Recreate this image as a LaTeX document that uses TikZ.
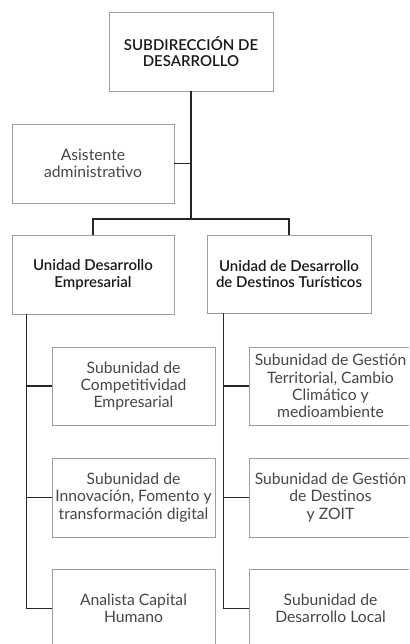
\documentclass[tikz,border=0pt]{standalone}
\usepackage{fontspec}
\setmainfont{Lato}
\newfontfamily\medfont{Lato Semibold}
\begin{document}
\begin{tikzpicture}[x=1pt,y=-1pt,
  box/.style={draw=black!38, line width=0.8pt, fill=white, inner sep=0pt, align=center},
  sub/.style={box, text=black!72, font=\fontsize{15.7}{17.2}\selectfont},
  unit/.style={box, text=black!90, font=\medfont\fontsize{15}{16.5}\selectfont},
  conn/.style={draw=black!85, line width=1.2pt}]
\clip (0,0) rectangle (409,644);
\useasboundingbox (0,0) rectangle (409,644);
\fill[white] (0,0) rectangle (409,644);

\node[unit, minimum width=164pt, minimum height=79pt] (top) at (191,51.5) {SUBDIRECCIÓN DE\\DESARROLLO};
\node[sub, minimum width=162pt, minimum height=79pt] (asis) at (93,163.5) {Asistente\\administrativo};
\node[unit, minimum width=162pt, minimum height=79pt] (ul) at (93,274.5) {Unidad Desarrollo\\Empresarial};
\node[unit, minimum width=164pt, minimum height=78pt] (ur) at (289,274) {Unidad de Desarrollo\\de Destinos Turísticos};

\node[sub, minimum width=163pt, minimum height=78pt] (l1) at (133.5,386) {Subunidad de\\Competitividad\\Empresarial};
\node[sub, minimum width=163pt, minimum height=79pt] (l2) at (133.5,497.5) {Subunidad de\\Innovación, Fomento y\\transformación digital};
\node[sub, minimum width=163pt, minimum height=79pt] (l3) at (133.5,608.5) {Analista Capital\\Humano};

\node[sub, minimum width=163pt, minimum height=78pt] (r1) at (330.5,386) {Subunidad de Gestión\\Territorial, Cambio\\Climático y\\medioambiente};
\node[sub, minimum width=163pt, minimum height=79pt] (r2) at (330.5,497.5) {Subunidad de Gestión\\de Destinos\\y ZOIT};
\node[sub, minimum width=163pt, minimum height=79pt] (r3) at (330.5,608.5) {Subunidad de\\Desarrollo Local};

\coordinate (bus) at (top.south |- 0,219);
\draw[conn] (top.south) -- (bus);
\draw[conn] (asis.east) -- (asis.east -| top.south);
\draw[conn] (ul.north) |- (bus) -| (ur.north);

\coordinate (ls) at ([xshift=15pt]ul.south west);
\coordinate (rs) at ([xshift=17pt]ur.south west);
\draw[conn] (ls) |- (l3.west);
\draw[conn] (ls |- l1.west) -- (l1.west);
\draw[conn] (ls |- l2.west) -- (l2.west);
\draw[conn] (rs) |- (r3.west);
\draw[conn] (rs |- r1.west) -- (r1.west);
\draw[conn] (rs |- r2.west) -- (r2.west);
\end{tikzpicture}
\end{document}
